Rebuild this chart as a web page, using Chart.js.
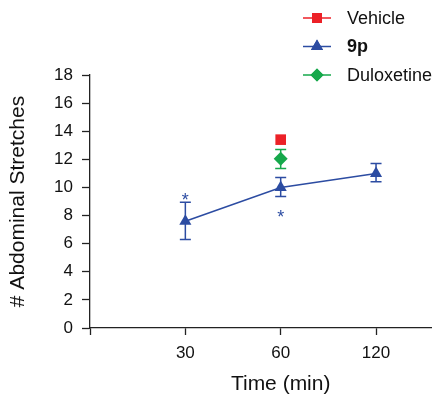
<!DOCTYPE html>
<html><head><meta charset="utf-8">
<script src="https://cdn.jsdelivr.net/npm/chart.js@4"></script>
<style>html,body{margin:0;padding:0;background:#fff}#w{width:432px;height:396px}</style>
</head><body><div id="w"><canvas id="c" width="432" height="396"></canvas></div>
<script>
const categories = ['30', '60', '120'];
const catPos = [1, 2, 3];
const seriesNames = ['Vehicle', '9p', 'Duloxetine'];
const xTitle = 'Time (min)';
const yTitle = '# Abdominal Stretches';
const vehicle = [null, 13.4, null];
const vehicleLo = [null, 13.4, null];
const vehicleHi = [null, 13.4, null];
const p9 = [7.6, 10.0, 11.0];
const p9Lo = [6.3, 9.35, 10.4];
const p9Hi = [8.95, 10.7, 11.7];
const dulox = [null, 12.05, null];
const duloxLo = [null, 11.35, null];
const duloxHi = [null, 12.7, null];
const starX = [1, 2];
const starY = [9.35, 8.1];
const yTicks = [0, 2, 4, 6, 8, 10, 12, 14, 16, 18];

const RED = '#ec2127', BLUE = '#2c4ca2', GREEN = '#16a84b';
const FONT = "'Liberation Sans', Arial, sans-serif";

function pts(vals) { return vals.map((v, i) => v == null ? null : { x: catPos[i], y: v }).filter(p => p); }

const errPlugin = {
  id: 'err',
  afterDatasetsDraw(chart) {
    const { ctx, scales: { x, y } } = chart;
    const sets = [[vehicleLo, vehicleHi, RED], [p9Lo, p9Hi, BLUE], [duloxLo, duloxHi, GREEN]];
    ctx.save();
    ctx.lineWidth = 1.5;
    sets.forEach(([lo, hi, col]) => {
      ctx.strokeStyle = col;
      lo.forEach((l, i) => {
        if (l == null || hi[i] == null || l === hi[i]) return;
        const px = x.getPixelForValue(catPos[i]);
        const y1 = y.getPixelForValue(l), y2 = y.getPixelForValue(hi[i]);
        ctx.beginPath();
        ctx.moveTo(px, y1); ctx.lineTo(px, y2);
        ctx.moveTo(px - 5.5, y1); ctx.lineTo(px + 5.5, y1);
        ctx.moveTo(px - 5.5, y2); ctx.lineTo(px + 5.5, y2);
        ctx.stroke();
      });
    });
    ctx.fillStyle = BLUE;
    ctx.font = "18px " + FONT;
    ctx.textAlign = 'center';
    ctx.textBaseline = 'middle';
    starX.forEach((sx, i) => {
      ctx.fillText('*', x.getPixelForValue(sx), y.getPixelForValue(starY[i]) + 4);
    });
    ctx.restore();
  }
};

const legendPlugin = {
  id: 'customLegend',
  afterDraw(chart) {
    const { ctx, scales: { x } } = chart;
    const items = [[seriesNames[0], RED, 'rect', false, 7], [seriesNames[1], BLUE, 'triangle', true, 7], [seriesNames[2], GREEN, 'rectRot', false, 6.5]];
    ctx.save();
    items.forEach(([name, col, style, bold, r], i) => {
      const yy = 18 + i * 28.5;
      ctx.strokeStyle = col; ctx.lineWidth = 1.5;
      ctx.beginPath(); ctx.moveTo(303, yy); ctx.lineTo(331, yy); ctx.stroke();
      ctx.fillStyle = col;
      Chart.helpers.drawPoint(ctx, { pointStyle: style, radius: r, rotation: 0, borderWidth: 0 }, 317, yy);
      ctx.fill();
      ctx.fillStyle = '#111';
      ctx.font = (bold ? 'bold ' : '') + "18px " + FONT;
      ctx.textAlign = 'left'; ctx.textBaseline = 'middle';
      ctx.fillText(name, 347, yy + 1);
    });
    // x-axis title, centred under the middle category as in the reference
    ctx.fillStyle = '#111';
    ctx.font = "21px " + FONT;
    ctx.textAlign = 'center'; ctx.textBaseline = 'middle';
    ctx.fillText(xTitle, x.getPixelForValue(catPos[1]), 384);
    ctx.restore();
  }
};

new Chart(document.getElementById('c'), {
  type: 'line',
  data: {
    datasets: [
      { label: seriesNames[0], data: pts(vehicle), borderColor: RED, backgroundColor: RED, pointStyle: 'rect', pointRadius: 7.5, showLine: false, borderWidth: 0 },
      { label: seriesNames[1], data: pts(p9), borderColor: BLUE, backgroundColor: BLUE, pointStyle: 'triangle', pointRadius: 7, borderWidth: 1.5, pointBorderWidth: 0, showLine: true },
      { label: seriesNames[2], data: pts(dulox), borderColor: GREEN, backgroundColor: GREEN, pointStyle: 'rectRot', pointRadius: 7, showLine: false, borderWidth: 0 }
    ]
  },
  options: {
    responsive: false,
    animation: false,
    layout: { autoPadding: false, padding: { top: 75, right: 0, left: 0, bottom: 0 } },
    plugins: { legend: { display: false }, tooltip: { enabled: false } },
    scales: {
      x: {
        type: 'linear', min: 0, max: 3.587,
        afterBuildTicks: (s) => { s.ticks = [0].concat(catPos).map(v => ({ value: v })); },
        afterFit: (s) => { s.height = 68; s.paddingRight = 0; s.paddingLeft = 0; },
        ticks: { callback: (v) => { const i = catPos.indexOf(v); return i >= 0 ? categories[i] : ''; }, color: '#111', font: { family: FONT, size: 17 }, padding: 8, maxRotation: 0 },
        grid: { drawOnChartArea: false, tickLength: 7, tickColor: '#222', tickWidth: 1.3 },
        border: { color: '#222', width: 1.3 },
        title: { display: false, text: xTitle }
      },
      y: {
        min: 0, max: 18,
        afterBuildTicks: (s) => { s.ticks = yTicks.map(v => ({ value: v })); },
        afterFit: (s) => { s.width = 90; },
        ticks: { color: '#111', font: { family: FONT, size: 17 }, padding: 9 },
        grid: { drawOnChartArea: false, tickLength: 8, tickColor: '#222', tickWidth: 1.3 },
        border: { color: '#222', width: 1.3 },
        title: { display: true, text: yTitle, color: '#111', font: { family: FONT, size: 21 }, padding: { top: 6, bottom: 0 } }
      }
    }
  },
  plugins: [errPlugin, legendPlugin]
});
</script>
</body></html>
